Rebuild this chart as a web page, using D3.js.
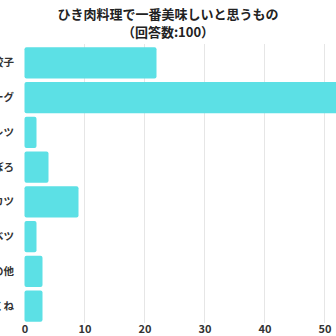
<!DOCTYPE html>
<html><head><meta charset="utf-8">
<script src="https://cdn.jsdelivr.net/npm/d3@7"></script>
<style>
html,body{margin:0;padding:0;background:#fff;overflow:hidden;}
svg{display:block;}
</style></head>
<body>
<svg id="chart" width="336" height="336"></svg>
<script>
const titleLines = ["ひき肉料理で一番美味しいと思うもの", "（回答数:100）"];
const categories = ["餃子", "ハンバーグ", "オムレツ", "そぼろ", "メンチカツ", "ロールキャベツ", "その他", "つくね"];
const values = [22, 55, 2, 4, 9, 2, 3, 3];
const tickValues = [0, 10, 20, 30, 40, 50];

const svg = d3.select("#chart");
const font = "'Noto Sans CJK JP', 'Noto Sans', sans-serif";

const x = d3.scaleLinear().domain([0, 50]).range([24.5, 324.5]);
const y = d3.scaleBand().domain(categories).range([45.5, 323.5]).paddingInner(0.1).paddingOuter(0.05);

// vertical gridlines
svg.append("g").selectAll("line").data(tickValues.filter(d => d > 0)).join("line")
  .attr("x1", d => x(d)).attr("x2", d => x(d))
  .attr("y1", 44).attr("y2", 323)
  .attr("stroke", "#e6e6e6").attr("stroke-width", 1);

// bars
svg.append("g").selectAll("rect").data(categories).join("rect")
  .attr("x", x(0))
  .attr("y", d => y(d))
  .attr("width", (d, i) => x(values[i]) - x(0))
  .attr("height", y.bandwidth())
  .attr("rx", 2).attr("ry", 2)
  .attr("fill", "#5ce0e5");

// x axis tick labels
const xAxis = d3.axisBottom(x).tickValues(tickValues).tickSize(0).tickPadding(0);
const gx = svg.append("g").attr("transform", "translate(0,325)").call(xAxis);
gx.select(".domain").remove();
gx.selectAll("text")
  .attr("font-family", font).attr("font-size", 11).attr("font-weight", "bold")
  .attr("fill", "#333").attr("dy", "0.71em");

// category labels
const yAxis = d3.axisLeft(y).tickSize(0).tickPadding(0);
const gy = svg.append("g").attr("transform", "translate(14,0)").call(yAxis);
gy.select(".domain").remove();
gy.selectAll("text")
  .attr("font-family", font).attr("font-size", 10.5).attr("font-weight", "bold")
  .attr("fill", "#333");

// title
svg.append("g").selectAll("text").data(titleLines).join("text")
  .attr("x", 168).attr("y", (d, i) => 18.5 + i * 18.5)
  .attr("text-anchor", "middle")
  .attr("font-family", font).attr("font-size", 13).attr("font-weight", "bold")
  .attr("fill", "#222")
  .text(d => d);
</script>
</body></html>
